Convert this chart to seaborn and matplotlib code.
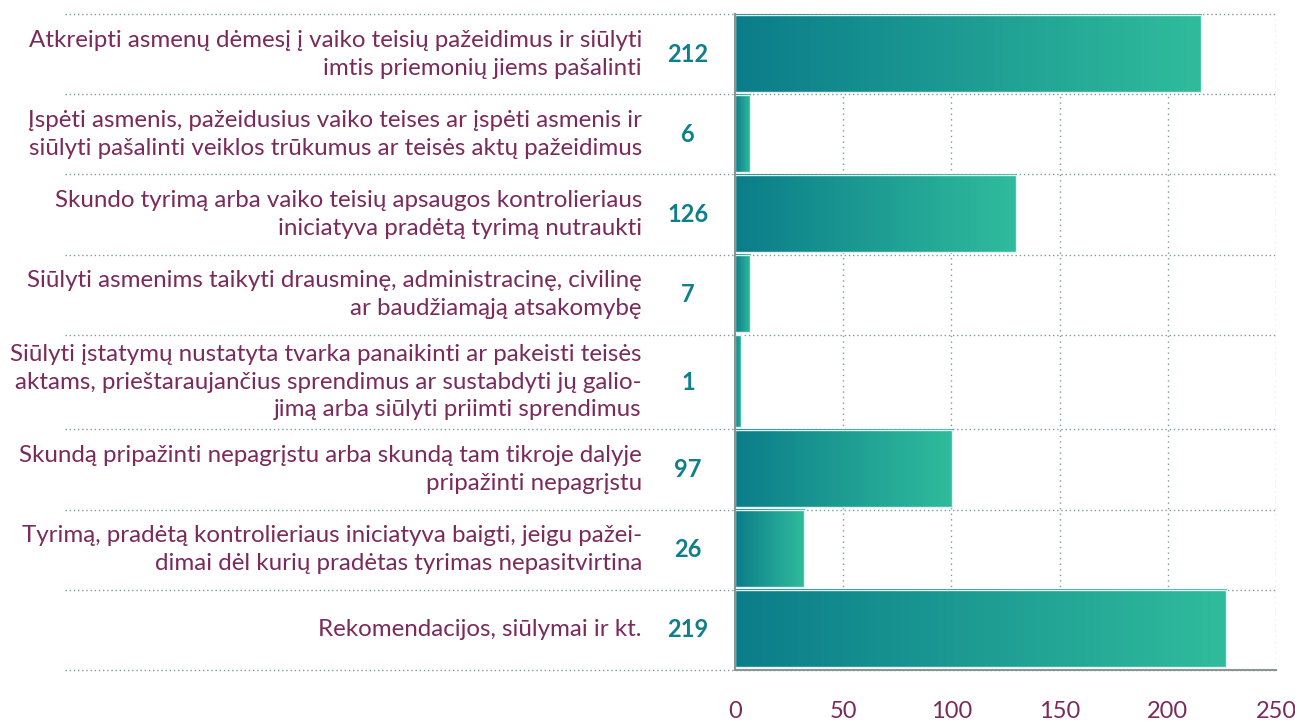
import numpy as np
import pandas as pd
import matplotlib.pyplot as plt
import seaborn as sns
from matplotlib.colors import LinearSegmentedColormap
from matplotlib.transforms import blended_transform_factory

sns.set_theme(style="white")
plt.rcParams['font.family'] = ['Lato', 'DejaVu Sans']

categories = [
    "Atkreipti asmenų dėmesį į vaiko teisių pažeidimus ir siūlyti\nimtis priemonių jiems pašalinti",
    "Įspėti asmenis, pažeidusius vaiko teises ar įspėti asmenis ir\nsiūlyti pašalinti veiklos trūkumus ar teisės aktų pažeidimus",
    "Skundo tyrimą arba vaiko teisių apsaugos kontrolieriaus\niniciatyva pradėtą tyrimą nutraukti",
    "Siūlyti asmenims taikyti drausminę, administracinę, civilinę\nar baudžiamąją atsakomybę",
    "Siūlyti įstatymų nustatyta tvarka panaikinti ar pakeisti teisės\naktams, prieštaraujančius sprendimus ar sustabdyti jų galio-\njimą arba siūlyti priimti sprendimus",
    "Skundą pripažinti nepagrįstu arba skundą tam tikroje dalyje\npripažinti nepagrįstu",
    "Tyrimą, pradėtą kontrolieriaus iniciatyva baigti, jeigu pažei-\ndimai dėl kurių pradėtas tyrimas nepasitvirtina",
    "Rekomendacijos, siūlymai ir kt.",
]
counts = [212, 6, 126, 7, 1, 97, 26, 219]
# bar lengths as drawn in the original (a bit longer than the printed counts)
bar_lengths = [215.5, 7, 130, 7, 3, 100.5, 32, 227]
x_ticks = [0, 50, 100, 150, 200, 250]

maroon = "#7a2a5b"
teal = "#0f7f8b"
grid_color = "#7f9a9a"
cmap = LinearSegmentedColormap.from_list("bar", ["#0b7d8a", "#30bc9c"])

# rows with three text lines are taller than the others
nlines = [c.count("\n") + 1 for c in categories]
row_h = np.array([52 + 14 * max(n, 2) for n in nlines])
tops = np.concatenate([[0], np.cumsum(row_h)[:-1]])
total = row_h.sum()

fig = plt.figure(figsize=(12.95, 7.24), dpi=100)
ax = fig.add_axes([735 / 1295, 1 - 670 / 724, 541 / 1295, 656 / 724])

df = pd.DataFrame({"category": categories, "value": bar_lengths})
sns.barplot(data=df, x="value", y="category", orient="h", ax=ax)

for p, top, h in zip(ax.patches, tops, row_h):
    p.set_y(top + 0.5)
    p.set_height(h - 3)
    w = p.get_width()
    grad = np.linspace(0, 1, 256).reshape(1, -1)
    ax.imshow(grad, extent=(0, w, top + h - 2.5, top + 0.5), cmap=cmap,
              aspect="auto", zorder=2)
    p.set_facecolor("none")
    p.set_edgecolor("#dff2ee")
    p.set_linewidth(1)
    p.set_zorder(3)

trans = blended_transform_factory(ax.transAxes, ax.transData)
for cat, n, top, h in zip(categories, counts, tops, row_h):
    yc = top + h / 2
    ax.text(-0.172, yc, cat, transform=trans, ha="right", va="center",
            color=maroon, fontsize=17.4, linespacing=1.4)
    ax.text(-0.087, yc, str(n), transform=trans, ha="center", va="center",
            color=teal, fontsize=17, fontweight="bold")

# dotted row separators reach out under the labels
for y in list(tops) + [total]:
    ax.plot([-1.238, 1], [y, y], transform=trans, clip_on=False,
            ls=(0, (1, 2)), color=grid_color, lw=1, zorder=1)

ax.set_xlim(0, 250)
ax.set_ylim(total, 0)
ax.set_xticks(x_ticks)
ax.set_yticks([])
ax.set_xlabel("")
ax.set_ylabel("")
ax.grid(axis="x", ls=(0, (1, 3)), color=grid_color, lw=1)
ax.set_axisbelow(True)

for s in ["top", "right"]:
    ax.spines[s].set_visible(False)
for s in ["left", "bottom"]:
    ax.spines[s].set_color("#8c9494")
    ax.spines[s].set_linewidth(1.5)
    ax.spines[s].set_zorder(4)

ax.tick_params(axis="x", length=14, width=1, color="#8c9494", pad=8,
               labelsize=17, labelcolor=maroon)

fig.savefig("out.png", dpi=100)
